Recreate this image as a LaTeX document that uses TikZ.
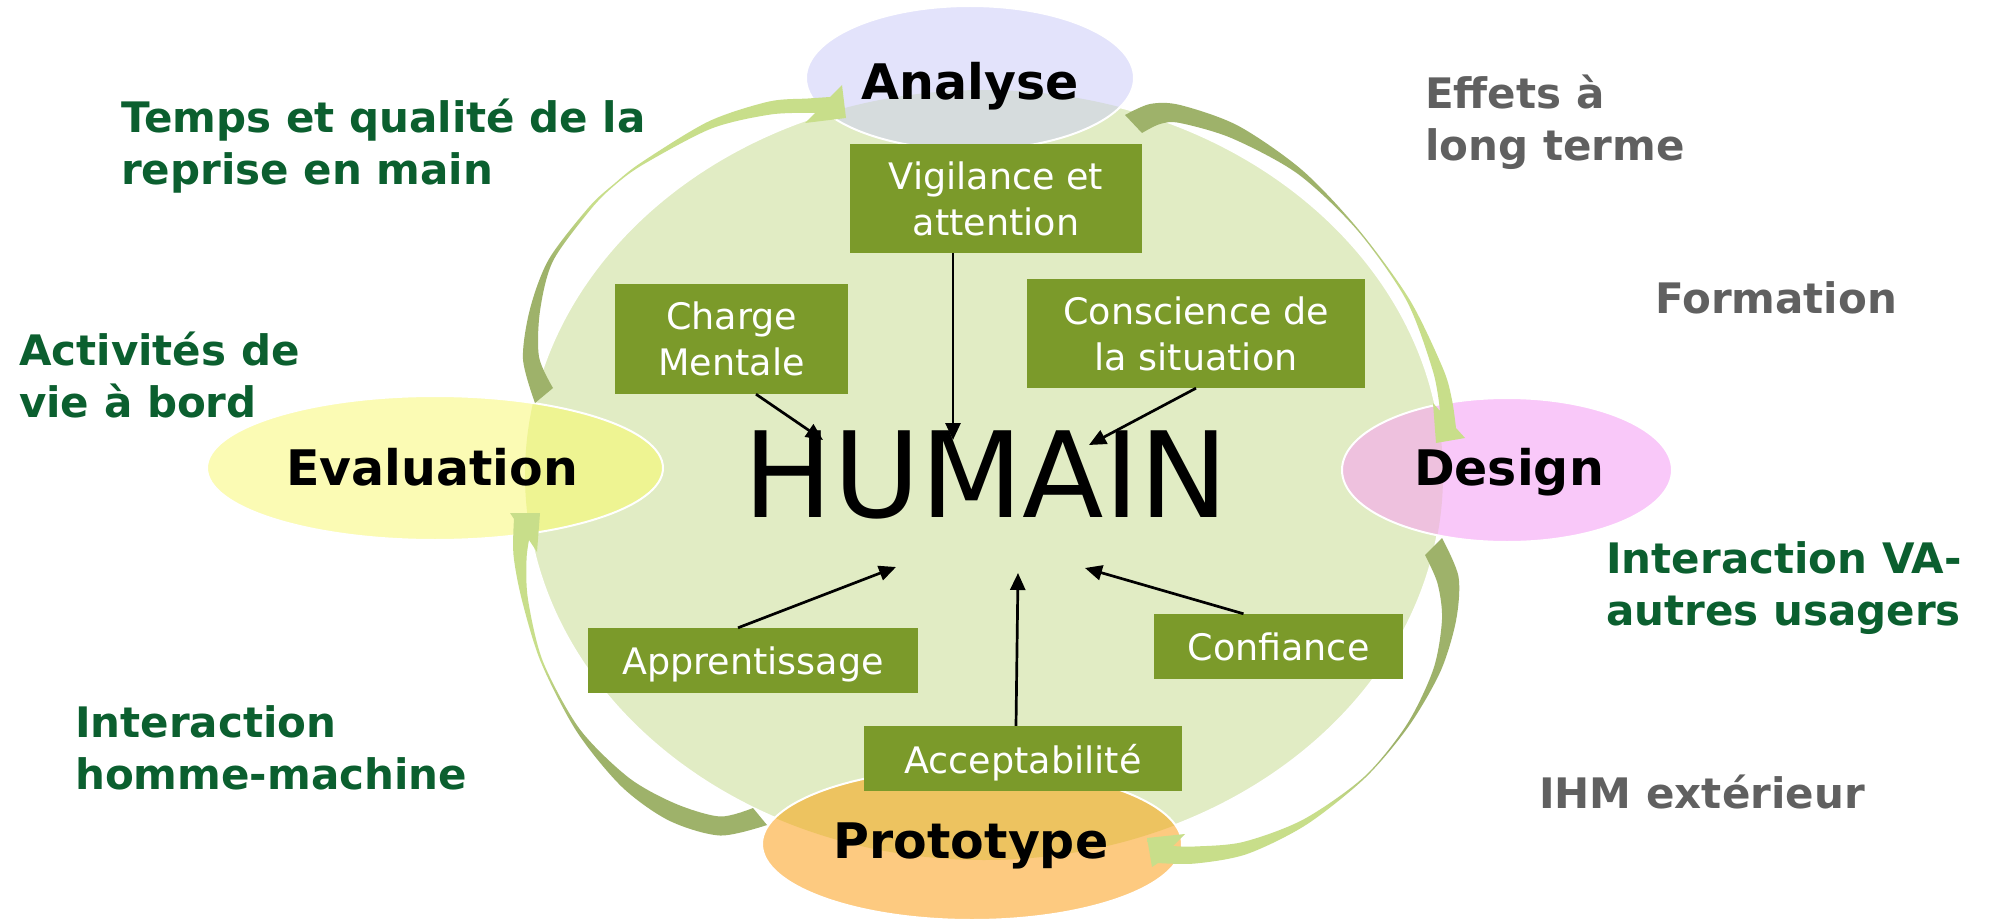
\documentclass[tikz,border=0pt]{standalone}
\usepackage{fontspec}
\setmainfont{DejaVu Sans}
\usetikzlibrary{arrows.meta}
\definecolor{ringgreen}{HTML}{E1ECC4}
\definecolor{anafill}{HTML}{E3E3FB}
\definecolor{anaover}{HTML}{D6DCDD}
\definecolor{evafill}{HTML}{FBFBB4}
\definecolor{evaover}{HTML}{EEF492}
\definecolor{desfill}{HTML}{F9C8F9}
\definecolor{desover}{HTML}{EEC1DE}
\definecolor{profill}{HTML}{FDCA80}
\definecolor{proover}{HTML}{EDC360}
\definecolor{boxgreen}{HTML}{7B9A2A}
\definecolor{lblgreen}{HTML}{0B5F2F}
\definecolor{lblgray}{HTML}{606060}
\definecolor{arrdk}{HTML}{9EB26A}
\definecolor{arrlt}{HTML}{C8DE8A}
\pgfdeclareverticalshading{arrA}{100bp}{color(0bp)=(arrdk); color(47bp)=(arrdk); color(56bp)=(arrlt); color(100bp)=(arrlt)}
\pgfdeclareverticalshading{arrB}{100bp}{color(0bp)=(arrlt); color(47.6bp)=(arrlt); color(60.8bp)=(arrdk); color(100bp)=(arrdk)}
\pgfdeclareverticalshading{arrC}{100bp}{color(0bp)=(arrlt); color(34bp)=(arrlt); color(43bp)=(arrdk); color(100bp)=(arrdk)}
\pgfdeclareverticalshading{arrD}{100bp}{color(0bp)=(arrdk); color(41bp)=(arrdk); color(52bp)=(arrlt); color(100bp)=(arrlt)}
\begin{document}
\begin{tikzpicture}[x=1pt,y=-1pt,
  sidelbl/.style={font=\bfseries\fontsize{42}{52}\selectfont, inner sep=0pt, anchor=base west},
  greenlbl/.style={sidelbl, text=lblgreen},
  graylbl/.style={sidelbl, text=lblgray},
  phase/.style={font=\bfseries\fontsize{49}{58}\selectfont, inner sep=0pt, anchor=base},
  gbox/.style={fill=boxgreen, text=white, font=\fontsize{36.5}{46}\selectfont, align=center, inner sep=0pt, text depth=0pt},
  arr/.style={line width=2.7pt, -{Triangle[length=17pt,width=15pt]}},
  outline/.style={draw=white, line width=2pt}]
\useasboundingbox (0,0) rectangle (1992,923);
\fill[white] (0,0) rectangle (1992,923);

% central ring
\path[fill=ringgreen, outline] (984,475) ellipse [x radius=459pt, y radius=385pt];

% phase ellipses
\fill[anafill] (970,78) ellipse [x radius=164pt, y radius=72pt];
\fill[evafill] (435,468) ellipse [x radius=228pt, y radius=72pt];
\fill[desfill] (1507,470) ellipse [x radius=165pt, y radius=72pt];
\fill[profill] (972,844) ellipse [x radius=210pt, y radius=76pt];
\begin{scope}
  \clip (984,475) ellipse [x radius=459pt, y radius=385pt];
  \fill[anaover] (970,78) ellipse [x radius=164pt, y radius=72pt];
  \fill[evaover] (435,468) ellipse [x radius=228pt, y radius=72pt];
  \fill[desover] (1507,470) ellipse [x radius=165pt, y radius=72pt];
  \fill[proover] (972,844) ellipse [x radius=210pt, y radius=76pt];
\end{scope}
\draw[outline] (970,78) ellipse [x radius=164pt, y radius=72pt];
\draw[outline] (435,468) ellipse [x radius=228pt, y radius=72pt];
\draw[outline] (1507,470) ellipse [x radius=165pt, y radius=72pt];
\draw[outline] (972,844) ellipse [x radius=210pt, y radius=76pt];

% curved cycle arrows
\shade[shading=arrA] plot[smooth] coordinates {(535,403) (523,359) (530,309) (549,259) (589,207) (614.5,183.5) (642,162) (708.5,121.5) (768.7,101.6) (808,98.5) (830,97)}
  -- (842,85) -- (846,118) -- (805,123)
  -- plot[smooth] coordinates {(815,113) (771.3,114.4) (711.5,128.5) (644,164) (615.5,184.5) (591,209) (553,261) (540,311) (539,357) (553,388)} -- cycle;
\shade[shading=arrB] plot[smooth] coordinates {(1125,115) (1150,104) (1180,105) (1238,125.7) (1302,170) (1358.5,229.5) (1409.5,299.5) (1443,368.6) (1452,400) (1456,428)}
  -- (1465,438) -- (1436,443) -- (1433,403)
  -- plot[smooth] coordinates {(1440,411) (1433,371.4) (1406.5,300.5) (1357.5,230.5) (1298,174) (1232,138.3) (1180,123) (1160,124) (1142,133)} -- cycle;
\shade[shading=arrC] plot[smooth] coordinates {(1442,538) (1458.5,576.7) (1456,620.7) (1440.5,671.3) (1409,725.8) (1365.5,777.5) (1306.5,824.6) (1247,854) (1195.4,863.5) (1158,863)}
  -- (1152,867) -- (1147,838) -- (1185,834)
  -- plot[smooth] coordinates {(1173,846) (1194.6,846.5) (1243,842) (1303.5,819.4) (1364.5,776.5) (1407,724.2) (1433.5,668.7) (1442,619.3) (1437.5,583.3) (1425,555)} -- cycle;
\shade[shading=arrD] plot[smooth] coordinates {(767,825) (720,835.5) (668.7,820.4) (621.5,786.5) (576.5,731.2) (541,662.4) (522,600.4) (513.5,555) (514,519)}
  -- (510,513) -- (540,513) -- (537,552)
  -- plot[smooth] coordinates {(529,540) (526.5,560) (528,599.6) (543,661.6) (579.5,728.8) (628.5,777.5) (675.3,803.6) (720,816.5) (753,808)} -- cycle;

% phase labels
\node[phase] (ana) at (970,100) {Analyse};
\node[phase] (eva) at (432,485) {Evaluation};
\node[phase] (des) at (1509,485) {Design};
\node[phase] (pro) at (971,858) {Prototype};

% centre
\node[anchor=base, inner sep=0pt, font=\fontsize{119}{140}\selectfont] (hum) at (986,517) {HUMAIN};

% factor boxes
\node[gbox, minimum width=292pt, minimum height=109pt] (vig) at (996,198.5) {Vigilance et\\attention};
\node[gbox, minimum width=233pt, minimum height=110pt] (cm) at (731.5,339) {Charge\\Mentale};
\node[gbox, minimum width=338pt, minimum height=109pt] (cs) at (1196,333.5) {Conscience de\\la situation};
\node[gbox, minimum width=330pt, minimum height=65pt] (app) at (753,660.5) {Apprentissage};
\node[gbox, minimum width=318pt, minimum height=65pt] (acc) at (1023,758.5) {Acceptabilité};
\node[gbox, minimum width=249pt, minimum height=65pt] (conf) at (1278.5,646.5) {Confiance};

% arrows into HUMAIN
\coordinate (tV) at (953,440);
\coordinate (tC) at (823,440);
\coordinate (tS) at (1089,445);
\coordinate (tA) at (896,567);
\coordinate (tP) at (1018,573);
\coordinate (tF) at (1085,568);
\draw[arr] (vig.south -| tV) -- (tV);
\draw[arr] ([xshift=24.5pt]cm.south) -- (tC);
\draw[arr] (cs.south) -- (tS);
\draw[arr] ([xshift=-15pt]app.north) -- (tA);
\draw[arr] ([xshift=-7pt]acc.north) -- (tP);
\draw[arr] ([xshift=-35pt]conf.north) -- (tF);

% side labels
\node[greenlbl] (l1) at (121,133) {\begin{tabular}[t]{@{}l@{}}Temps et qualité de la\\reprise en main\end{tabular}};
\node[greenlbl] (l2) at (19,365) {\begin{tabular}[t]{@{}l@{}}Activités de\\vie à bord\end{tabular}};
\node[greenlbl] (l3) at (75,737) {\begin{tabular}[t]{@{}l@{}}Interaction\\homme-machine\end{tabular}};
\node[greenlbl] (l4) at (1606,573) {\begin{tabular}[t]{@{}l@{}}Interaction VA-\\autres usagers\end{tabular}};
\node[graylbl] (g1) at (1425,109) {\begin{tabular}[t]{@{}l@{}}Effets à\\long terme\end{tabular}};
\node[graylbl] (g2) at (1655,313) {Formation};
\node[graylbl] (g3) at (1539,808) {IHM extérieur};
\end{tikzpicture}
\end{document}
